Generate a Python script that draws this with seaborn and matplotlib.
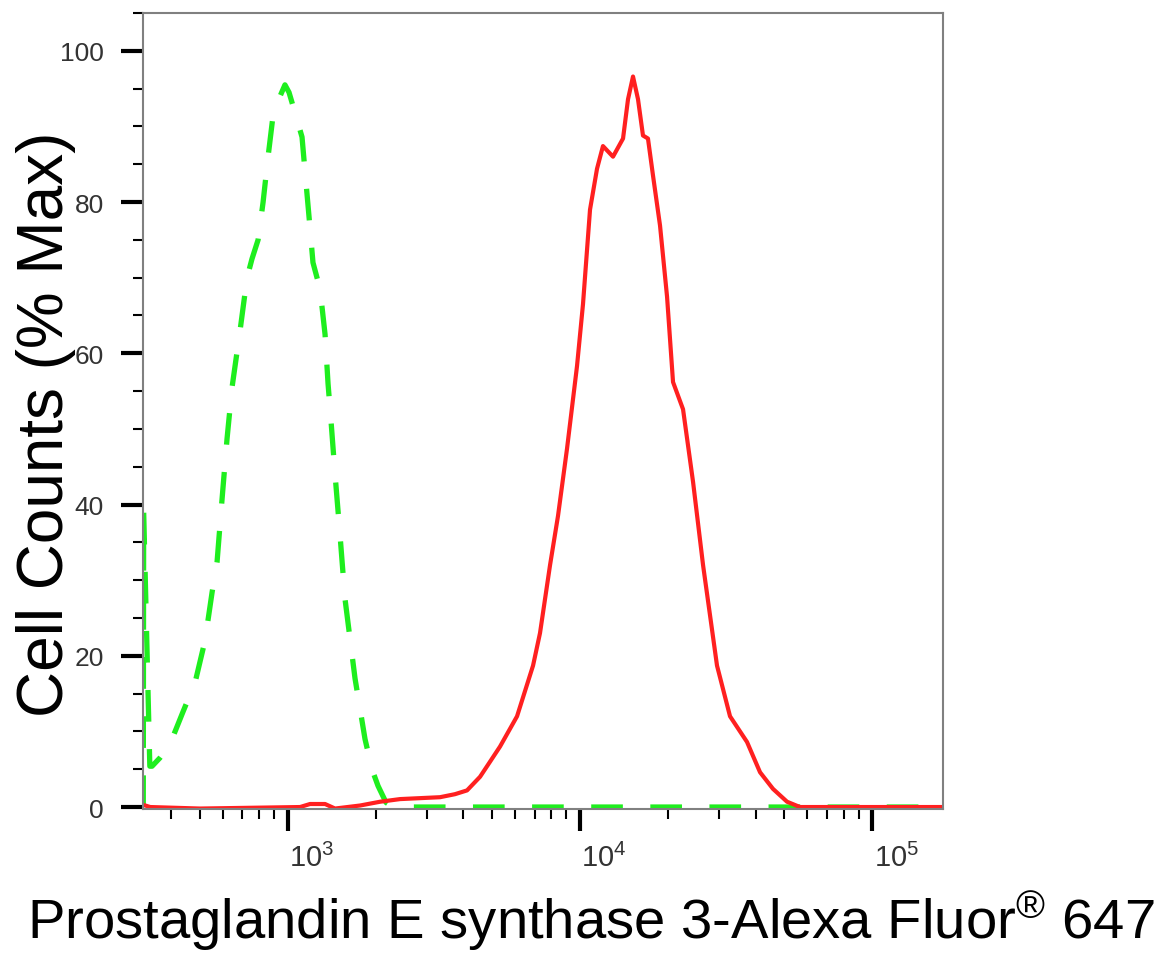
import numpy as np
import pandas as pd
import matplotlib
matplotlib.use("Agg")
import matplotlib.pyplot as plt
import matplotlib.ticker as mticker
import matplotlib.transforms as mtransforms
from matplotlib import font_manager
import seaborn as sns

# isotype control (green dashed)
ctrl_x = [321, 322, 338, 344, 366, 396, 439, 483, 522, 552, 574, 597, 621, 646,
          688, 727, 756, 793, 825, 858, 892, 943, 980, 1012, 1061, 1121, 1148,
          1185, 1222, 1292, 1344, 1376, 1409, 1454, 1512, 1573, 1702, 1841, 1945,
          2040, 2173, 2296, 5000, 20000, 80000, 174800]
ctrl_y = [0, 39, 5.4, 5.4, 6.5, 8.3, 12.6, 16.5, 22, 28.4, 32.4, 40.7, 48.7, 55.5,
          63, 70, 72.5, 75, 80, 86, 91.4, 94, 95.5, 94.5, 91.8, 88.6, 84,
          78, 72, 68.5, 62.5, 56, 51, 44, 36, 27.5, 17, 9, 5,
          2.8, 0.6, 0, 0, 0, 0, 0]

# stained sample (red solid)
pges_x = [320, 339, 502, 1104, 1194, 1344, 1454, 1770, 2073, 2426, 3325, 3741,
          4113, 4557, 4931, 5334, 6099, 6918, 7308, 7910, 8422, 9042, 9781,
          10254, 10837, 11451, 12001, 12989, 14056, 14620, 15205, 15815, 16447,
          17107, 17800, 18810, 19880, 20840, 22550, 24400, 26400, 29470, 32650,
          37330, 41360, 45810, 51170, 56660, 100000, 174800]
pges_y = [0.3, 0, -0.2, 0, 0.4, 0.4, -0.2, 0.2, 0.7, 1.05, 1.3, 1.7,
          2.2, 4, 6, 8, 12, 18.7, 23, 32, 38.5, 47.4, 58.3,
          66.5, 79, 84.4, 87.4, 86, 88.4, 93.6, 96.6, 93.6, 88.8,
          88.4, 83.5, 76.9, 67.5, 56.2, 52.6, 43, 32, 18.7, 12,
          8.6, 4.6, 2.4, 0.7, 0, 0, 0]

y_ticks = [0, 20, 40, 60, 80, 100]
x_label = "Prostaglandin E synthase 3-Alexa Fluor$^{®}$ 647"
y_label = "Cell Counts (% Max)"


def pick_font(names):
    for n in names:
        try:
            font_manager.findfont(n, fallback_to_default=False)
            return n
        except Exception:
            pass
    return "DejaVu Sans"


narrow = pick_font(["Liberation Sans Narrow", "DejaVu Sans Condensed", "Liberation Sans"])

sns.set_style("white")
plt.rcParams["font.family"] = ["Liberation Sans", "DejaVu Sans"]
plt.rcParams["mathtext.fontset"] = "custom"
plt.rcParams["mathtext.rm"] = narrow
plt.rcParams["mathtext.it"] = narrow
plt.rcParams["mathtext.bf"] = narrow

ctrl = pd.DataFrame({"x": ctrl_x, "y": ctrl_y})
pges = pd.DataFrame({"x": pges_x, "y": pges_y})

fig = plt.figure(figsize=(11.73, 9.54), dpi=100)
ax = fig.add_axes([143 / 1173, 1 - 810 / 954, 800 / 1173, 796 / 954])
ax.set_xscale("log")

sns.lineplot(data=ctrl, x="x", y="y", ax=ax, color="#1eee1e", lw=3.8,
             linestyle=(0, (6, 5.2)), estimator=None, sort=False)
sns.lineplot(data=pges, x="x", y="y", ax=ax, color="#ff2020", lw=3.0,
             estimator=None, sort=False)

ax.set_xlim(320.3, 174800)
ax.set_ylim(-0.26, 105)

ax.set_yticks(y_ticks)
ax.yaxis.set_minor_locator(mticker.MultipleLocator(5))
ax.xaxis.set_major_locator(mticker.LogLocator(base=10))
ax.xaxis.set_minor_locator(mticker.LogLocator(base=10, subs=np.arange(2, 10)))
ax.xaxis.set_minor_formatter(mticker.NullFormatter())
ax.xaxis.set_major_formatter(mticker.LogFormatterMathtext())

ax.tick_params(axis="both", which="major", direction="out", length=16,
               width=3, color="black", labelsize=19, labelcolor="#333333")
ax.tick_params(axis="x", which="major", labelsize=21)
ax.tick_params(axis="both", which="minor", direction="out", length=7,
               width=1.5, color="black")
ax.tick_params(axis="y", which="major", pad=12)
ax.tick_params(axis="x", which="major", pad=8)
ax.tick_params(left=True, bottom=True, which="both")

for lbl in ax.get_yticklabels():
    lbl.set_fontfamily([narrow, "DejaVu Sans"])

# exponent labels sit a little right of their ticks in the original
shift = mtransforms.ScaledTranslation(24 / 100, 0, fig.dpi_scale_trans)
for lbl in ax.get_xticklabels():
    lbl.set_transform(lbl.get_transform() + shift)

for sp in ax.spines.values():
    sp.set_color("#808080")
    sp.set_linewidth(1.5)

ax.set_xlabel(x_label, fontsize=40.5, color="black")
ax.set_ylabel(y_label, fontsize=46, color="black")
ax.xaxis.set_label_coords(0.56, -0.099)
ax.yaxis.set_label_coords(-0.084, 0.484)

fig.savefig("out.png", dpi=100)
